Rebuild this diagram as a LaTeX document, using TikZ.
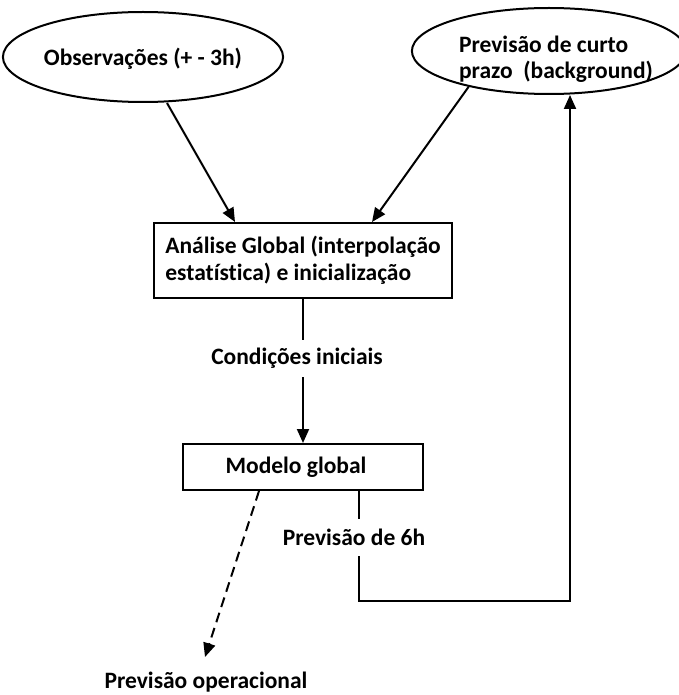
\documentclass[tikz,border=0pt]{standalone}
\usepackage{fontspec}
\setmainfont{Carlito}[Ligatures=NoCommon]
\usetikzlibrary{shapes.geometric,arrows.meta,calc}
\newcommand\shiftedtext[3]{\kern#1\raisebox{#2}[\height][\depth]{#3}\kern-#1}
\begin{document}
\begin{tikzpicture}[x=1pt,y=-1pt,
  every node/.style={font=\bfseries\fontsize{23.5}{26.5}\selectfont},
  ell/.style={draw,line width=2pt,ellipse,inner sep=0pt},
  boxnode/.style={draw,line width=2pt,rectangle,inner sep=0pt},
  lbl/.style={inner sep=0pt},
  conn/.style={line width=2pt},
  arr/.style={conn,-{Triangle[length=14pt,width=12pt]}}]
\useasboundingbox (0,0) rectangle (678,695);
\node[ell,minimum width=264pt,minimum height=90pt] (obs) at (143,57) {\shiftedtext{0pt}{-2pt}{Observações (+ - 3h)}};
\node[ell,minimum width=254pt,minimum height=86pt] (prev) at (549,51) {\shiftedtext{7pt}{-9pt}{\begin{tabular}{@{}l@{}}Previsão de curto\\prazo~ (background)\end{tabular}}};
\node[boxnode,minimum width=298pt,minimum height=75pt,align=left] (ana) at (303,260.5) {Análise Global (interpolação\\estatística) e inicialização};
\node[lbl,minimum height=37pt] (ci) at (297,358.5) {Condições iniciais};
\node[boxnode,minimum width=240pt,minimum height=46pt] (mod) at (303,467) {\shiftedtext{-7pt}{0pt}{Modelo global}};
\node[lbl,minimum height=37pt] (six) at (354,537.5) {Previsão de 6h};
\node[lbl] (op) at (206,682) {Previsão operacional};
\coordinate (loop) at (570,601);
\coordinate (optip) at (205,657);

\draw[arr] ([xshift=24pt]obs.south) -- ([xshift=-68pt]ana.north);
\draw[arr] (prev.204) -- ([xshift=69pt]ana.north);
\draw[conn] (ana.south) -- (ana.south |- ci.north);
\draw[arr] (ana.south |- ci.south) -- (mod.north);
\draw[conn] ([xshift=56pt]mod.south) -- ([xshift=56pt]mod.south |- six.north);
\draw[arr] ([xshift=56pt]mod.south |- six.south) -- ([xshift=56pt]mod.south |- loop) -- (loop) -- (loop |- prev.south);
\draw[arr,dash pattern=on 10pt off 6pt] ([xshift=-44pt]mod.south) -- (optip);
\end{tikzpicture}
\end{document}
